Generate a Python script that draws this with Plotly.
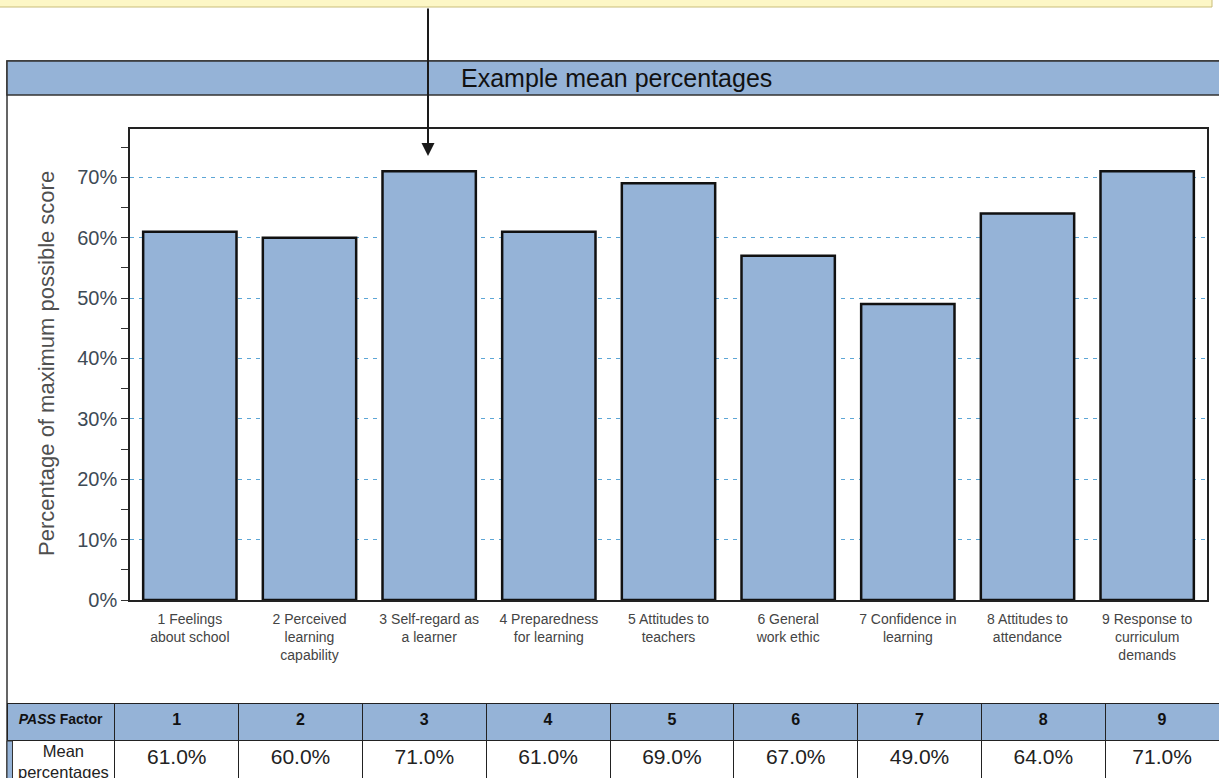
import plotly.graph_objects as go

W, H = 1219, 778

# ---- data ----
categories = [
    "1 Feelings<br>about school",
    "2 Perceived<br>learning<br>capability",
    "3 Self-regard as<br>a learner",
    "4 Preparedness<br>for learning",
    "5 Attitudes to<br>teachers",
    "6 General<br>work ethic",
    "7 Confidence in<br>learning",
    "8 Attitudes to<br>attendance",
    "9 Response to<br>curriculum<br>demands",
]
bar_values = [61, 60, 71, 61, 69, 57, 49, 64, 71]
factor_ids = ["1", "2", "3", "4", "5", "6", "7", "8", "9"]
table_values = ["61.0%", "60.0%", "71.0%", "61.0%", "69.0%", "67.0%", "49.0%", "64.0%", "71.0%"]
row_label = "Mean<br>percentages"
y_ticks = [0, 10, 20, 30, 40, 50, 60, 70]
y_ticklabels = ["0%", "10%", "20%", "30%", "40%", "50%", "60%", "70%"]

FONT = "Arial, Liberation Sans, sans-serif"
BLUE = "#95b3d7"


def px(x):
    return x / W


def py(y):
    return 1 - y / H


fig = go.Figure()

fig.add_trace(go.Bar(
    x=list(range(len(categories))),
    y=bar_values,
    width=0.78,
    marker=dict(color=BLUE, line=dict(color="#111111", width=2.5)),
    hoverinfo="skip",
))

# table at the bottom
header_vals = ["<b><i>PASS</i> Factor</b>"] + ["<b>%s</b>" % f for f in factor_ids]
cell_vals = [[""]] + [[v] for v in table_values]
fig.add_trace(go.Table(
    domain=dict(x=[px(7), 1], y=[0, py(703)]),
    columnwidth=[108] + [124] * 8 + [114],
    header=dict(
        values=header_vals,
        fill_color=BLUE,
        line=dict(color="#222222", width=1),
        align="center",
        height=37,
        font=dict(family=FONT, size=[14] + [16] * 9, color="#111111"),
    ),
    cells=dict(
        values=cell_vals,
        fill_color="white",
        line=dict(color="#222222", width=1),
        align="center",
        height=38,
        font=dict(family=FONT, size=[16] + [21] * 9, color="#222222"),
    ),
))

shapes = [
    # yellow box at top
    dict(type="rect", xref="paper", yref="paper", x0=px(-5), x1=px(1212), y0=py(7), y1=py(-5),
         fillcolor="#fdf7c6", line=dict(color="#c9bd7a", width=1), layer="below"),
    # outer frame
    dict(type="rect", xref="paper", yref="paper", x0=px(7), x1=px(1222), y0=py(790), y1=py(61),
         fillcolor="rgba(0,0,0,0)", line=dict(color="#333333", width=1.5), layer="below"),
    # title bar
    dict(type="rect", xref="paper", yref="paper", x0=px(7), x1=px(1222), y0=py(95), y1=py(61),
         fillcolor=BLUE, line=dict(color="#333333", width=1.5), layer="below"),
    # stripe at left of table row
    dict(type="rect", xref="paper", yref="paper", x0=px(7), x1=px(12.5), y0=py(790), y1=py(741),
         fillcolor=BLUE, line=dict(color="#333333", width=1), layer="above"),
]

annotations = [
    dict(text="Example mean percentages", x=px(616), y=py(78), xref="paper", yref="paper",
         showarrow=False, font=dict(family=FONT, size=25, color="#111111"),
         xanchor="center", yanchor="middle"),
    dict(text="Percentage of maximum possible score", x=px(47), y=py(364), xref="paper", yref="paper",
         showarrow=False, textangle=-90, font=dict(family=FONT, size=22, color="#4f4f4f"),
         xanchor="center", yanchor="middle"),
    dict(text="", x=px(428), y=py(156), xref="paper", yref="paper",
         showarrow=True, ax=0, ay=-149, arrowhead=2, arrowsize=1.3, arrowwidth=2,
         arrowcolor="#1a1a1a", standoff=0),
    # row label of the table
    dict(text=row_label, x=px(63), y=py(740), xref="paper", yref="paper",
         showarrow=False, align="center", xanchor="center", yanchor="top",
         font=dict(family=FONT, size=16.5, color="#222222")),
]

fig.update_layout(
    width=W, height=H,
    autosize=False,
    margin=dict(l=0, r=0, t=0, b=0, pad=0, autoexpand=False),
    paper_bgcolor="white",
    plot_bgcolor="white",
    showlegend=False,
    font=dict(family=FONT),
    shapes=shapes,
    annotations=annotations,
    xaxis=dict(
        domain=[px(130), px(1207)],
        range=[-0.5, 8.5],
        tickmode="array",
        tickvals=list(range(len(categories))),
        ticktext=categories,
        tickfont=dict(family=FONT, size=14, color="#444444"),
        ticklabelstandoff=5,
        showline=True, linecolor="#222222", linewidth=1.5, mirror=True,
        showgrid=False, zeroline=False, ticks="",
        automargin=False,
        fixedrange=True,
    ),
    yaxis=dict(
        domain=[py(600), py(129)],
        range=[0, 78],
        tickmode="array",
        tickvals=y_ticks,
        ticktext=y_ticklabels,
        tickfont=dict(family=FONT, size=20, color="#3d4a55"),
        ticks="outside", ticklen=7, tickcolor="#333333", tickwidth=1,
        minor=dict(dtick=5, tick0=0, ticks="outside", ticklen=7, tickcolor="#333333", showgrid=False),
        showgrid=True, gridcolor="#5da6d6", griddash="4px,5px", gridwidth=1,
        showline=True, linecolor="#222222", linewidth=1.5, mirror=True,
        zeroline=False,
        automargin=False,
        fixedrange=True,
    ),
)

fig.write_html("out.html")
